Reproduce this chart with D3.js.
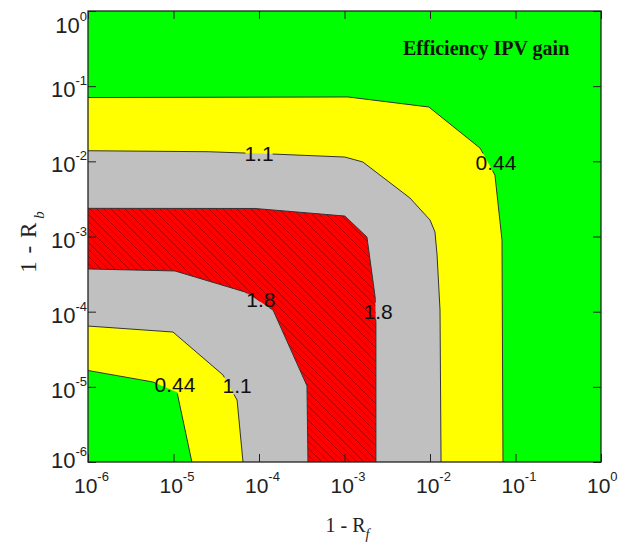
<!DOCTYPE html>
<html>
<head>
<meta charset="utf-8">
<script src="https://cdn.jsdelivr.net/npm/d3@7"></script>
<style>
  body { margin: 0; background: #fff; }
</style>
</head>
<body>
<div id="chart"></div>
<script>
// contour lines of the efficiency IPV gain, points are [1 - Rf, 1 - Rb]
var outer044 = [[1e-6, 0.0706], [1.10e-3, 0.0718], [9.7e-3, 0.0528], [0.0385, 0.0150],
                [0.0575, 6.57e-3], [0.0695, 8.97e-4], [0.0714, 1e-6]];
var inner044 = [[1e-6, 1.65e-5], [5.75e-6, 1.16e-5], [1.10e-5, 8.5e-6], [1.64e-5, 1e-6]];
var outer11 = [[1e-6, 0.01383], [2.54e-5, 0.01343], [1.46e-4, 0.0125], [1.01e-3, 0.0114],
               [1.64e-3, 9.8e-3], [5.83e-3, 3.25e-3], [0.0100, 1.66e-3], [0.01143, 1.15e-3],
               [0.0121, 5.68e-4], [0.0131, 1.05e-4], [0.01346, 1e-6]];
var inner11 = [[1e-6, 6.44e-5], [9.86e-6, 5.36e-5], [3.79e-5, 1.44e-5], [5.54e-5, 6.68e-6], [6.50e-5, 1e-6]];
var outer18 = [[1e-6, 2.37e-3], [8.97e-5, 2.36e-3], [1.01e-3, 1.87e-3], [1.83e-3, 9.84e-4],
               [2.28e-3, 1.57e-4], [2.33e-3, 7.06e-5], [2.33e-3, 1e-6]];
var inner18 = [[1e-6, 3.70e-4], [1.04e-5, 3.48e-4], [6.85e-5, 1.83e-4], [1.46e-4, 1.05e-4],
               [3.64e-4, 1.03e-5], [3.74e-4, 1e-6]];

// inline contour labels
var levelLabels = [
    { text: "1.1",  at: [1.0e-4, 0.0129] },
    { text: "0.44", at: [0.0592, 9.8e-3] },
    { text: "1.8",  at: [1.05e-4, 1.47e-4] },
    { text: "1.8",  at: [2.47e-3, 1.02e-4] },
    { text: "0.44", at: [1.04e-5, 1.06e-5] },
    { text: "1.1",  at: [5.54e-5, 1.03e-5] }
];

var tickValues = [1e-6, 1e-5, 1e-4, 1e-3, 1e-2, 1e-1, 1e0];
var tickExps = ["-6", "-5", "-4", "-3", "-2", "-1", "0"];

var margin = { top: 11, right: 17, bottom: 83, left: 88 },
    width = 618 - margin.left - margin.right,
    height = 545 - margin.top - margin.bottom;

var svg = d3.select("#chart")
    .append("svg")
    .attr("width", 618)
    .attr("height", 545);

var defs = svg.append("defs");

// hatching for the top band
var hatch = defs.append("pattern")
    .attr("id", "hatch")
    .attr("patternUnits", "userSpaceOnUse")
    .attr("width", 7)
    .attr("height", 7);
hatch.append("path")
    .attr("d", "M0,0 L7,7 M-1,6 L1,8 M6,-1 L8,1")
    .attr("stroke", "#b80000")
    .attr("stroke-width", 1);

defs.append("clipPath").attr("id", "plotclip")
    .append("rect").attr("width", width).attr("height", height);

var g = svg.append("g")
    .attr("transform", "translate(" + margin.left + "," + margin.top + ")");

var x = d3.scaleLog().domain([1e-6, 1]).range([0, width]);
var y = d3.scaleLog().domain([1e-6, 1]).range([height, 0]);

var line = d3.line()
    .x(function(d) { return x(d[0]); })
    .y(function(d) { return y(d[1]); });

function band(outer, inner) {
    return line(outer.concat(inner.slice().reverse())) + "Z";
}

var plot = g.append("g").attr("clip-path", "url(#plotclip)");

// background level (lowest)
plot.append("rect")
    .attr("width", width)
    .attr("height", height)
    .attr("fill", "#00ff00");

plot.append("path").attr("d", band(outer044, inner044)).attr("fill", "#ffff00");
plot.append("path").attr("d", band(outer11, inner11)).attr("fill", "#c0c0c0");
plot.append("path").attr("d", band(outer18, inner18)).attr("fill", "#ff0000");
plot.append("path").attr("d", band(outer18, inner18)).attr("fill", "url(#hatch)");

// contour lines, broken under their labels
var mask = defs.append("mask")
    .attr("id", "labelmask")
    .attr("maskUnits", "userSpaceOnUse")
    .attr("x", -10).attr("y", -10)
    .attr("width", width + 20).attr("height", height + 20);
mask.append("rect")
    .attr("x", -10).attr("y", -10)
    .attr("width", width + 20).attr("height", height + 20)
    .attr("fill", "white");

var lines = plot.append("g").attr("mask", "url(#labelmask)");
[outer044, inner044, outer11, inner11, outer18, inner18].forEach(function(c) {
    lines.append("path")
        .attr("d", line(c))
        .attr("fill", "none")
        .attr("stroke", "#333")
        .attr("stroke-width", 1);
});

var labels = plot.selectAll(".lvl")
    .data(levelLabels)
    .enter().append("text")
    .attr("class", "lvl")
    .attr("x", function(d) { return x(d.at[0]); })
    .attr("y", function(d) { return y(d.at[1]); })
    .attr("dy", "0.36em")
    .attr("text-anchor", "middle")
    .style("font-family", "Arial, 'Liberation Sans', sans-serif")
    .style("font-size", "21px")
    .attr("fill", "#111")
    .text(function(d) { return d.text; });

labels.each(function() {
    var b = this.getBBox();
    mask.append("rect")
        .attr("x", b.x + 1).attr("y", b.y + 3)
        .attr("width", b.width - 2).attr("height", b.height - 6)
        .attr("fill", "black");
});

// inward ticks on all four sides
function ticks(axis) {
    return axis.tickValues(tickValues).tickSize(-8).tickFormat("");
}
g.append("g").attr("transform", "translate(0," + height + ")").call(ticks(d3.axisBottom(x)));
g.append("g").call(ticks(d3.axisTop(x)));
g.append("g").call(ticks(d3.axisLeft(y)));
g.append("g").attr("transform", "translate(" + width + ",0)").call(ticks(d3.axisRight(y)));
g.selectAll(".domain").remove();
g.selectAll(".tick line").attr("stroke", "#222");

g.append("rect")
    .attr("width", width)
    .attr("height", height)
    .attr("fill", "none")
    .attr("stroke", "#222")
    .attr("stroke-width", 1.3);

// tick labels, 10 with superscript exponent
var fontSans = "Arial, 'Liberation Sans', sans-serif";

var xl = g.selectAll(".xl")
    .data(tickValues)
    .enter().append("text")
    .attr("class", "xl")
    .attr("x", function(d) { return x(d) - 14; })
    .attr("y", height + 31)
    .attr("text-anchor", "start")
    .style("font-family", fontSans)
    .style("font-size", "21px")
    .attr("fill", "#222");
xl.append("tspan").text("10");
xl.append("tspan")
    .attr("dy", -12)
    .style("font-size", "13px")
    .text(function(d, i) { return tickExps[i]; });

var yl = g.selectAll(".yl")
    .data(tickValues)
    .enter().append("text")
    .attr("class", "yl")
    .attr("x", -1)
    .attr("y", function(d) { return Math.min(Math.max(y(d) + 11, 22), height + 6); })
    .attr("text-anchor", "end")
    .style("font-family", fontSans)
    .style("font-size", "22px")
    .attr("fill", "#222");
yl.append("tspan").text("10");
yl.append("tspan")
    .attr("dy", -12)
    .style("font-size", "13px")
    .text(function(d, i) { return tickExps[i]; });

// axis titles
var fontSerif = "'Times New Roman', 'Liberation Serif', serif";

var xt = svg.append("text")
    .attr("x", margin.left + width / 2 + 3)
    .attr("y", 532)
    .attr("text-anchor", "middle")
    .style("font-family", fontSerif)
    .style("font-size", "20px")
    .attr("fill", "#222");
xt.append("tspan").text("1 - R");
xt.append("tspan").attr("dy", 7).style("font-size", "14px").style("font-style", "italic").text("f");

var yt = svg.append("text")
    .attr("transform", "translate(36,242) rotate(-90)")
    .attr("text-anchor", "middle")
    .style("font-family", fontSerif)
    .style("font-size", "23px")
    .style("word-spacing", "2px")
    .attr("fill", "#222");
yt.append("tspan").text("1 - R");
yt.append("tspan").attr("dy", 8).attr("dx", 4).style("font-size", "15px").style("font-style", "italic").text("b");

svg.append("text")
    .attr("x", 403)
    .attr("y", 55)
    .style("font-family", fontSerif)
    .style("font-size", "20px")
    .style("font-weight", "bold")
    .attr("fill", "#111")
    .text("Efficiency IPV gain");
</script>
</body>
</html>
